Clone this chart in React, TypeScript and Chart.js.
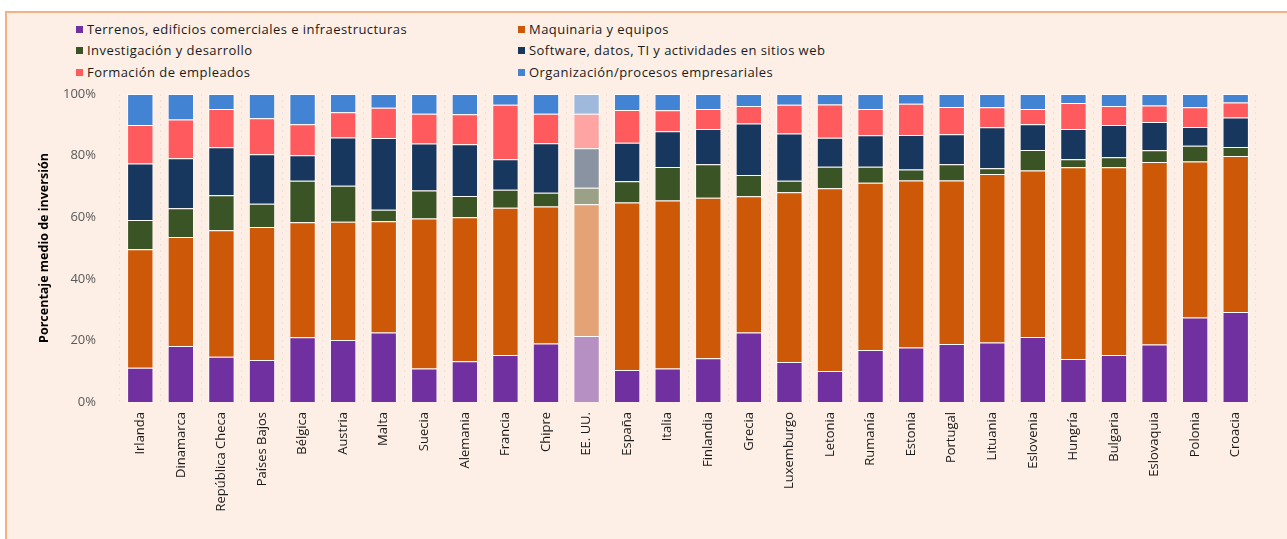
import React, { useEffect, useRef } from 'react';
import { Chart, registerables } from 'chart.js';

Chart.register(...registerables);

const categories = [
  'Irlanda', 'Dinamarca', 'República Checa', 'Países Bajos', 'Bélgica', 'Austria', 'Malta',
  'Suecia', 'Alemania', 'Francia', 'Chipre', 'EE. UU.', 'España', 'Italia', 'Finlandia',
  'Grecia', 'Luxemburgo', 'Letonia', 'Rumanía', 'Estonia', 'Portugal', 'Lituania',
  'Eslovenia', 'Hungría', 'Bulgaria', 'Eslovaquia', 'Polonia', 'Croacia',
];

const seriesNames = [
  'Terrenos, edificios comerciales e infraestructuras',
  'Maquinaria y equipos',
  'Investigación y desarrollo',
  'Software, datos, TI y actividades en sitios web',
  'Formación de empleados',
  'Organización/procesos empresariales',
];

const terrenos = [11.1, 18.2, 14.7, 13.6, 21.0, 20.1, 22.6, 10.9, 13.2, 15.3, 19.0, 21.4, 10.4, 10.9, 14.2, 22.6, 13.0, 10.1, 16.9, 17.7, 18.8, 19.3, 21.1, 14.0, 15.3, 18.7, 27.4, 29.2];
const maquinaria = [38.5, 35.4, 41.1, 43.2, 37.4, 38.4, 36.1, 48.7, 46.8, 47.8, 44.5, 42.8, 54.4, 54.5, 52.1, 44.2, 55.1, 59.3, 54.3, 54.2, 53.1, 54.7, 54.1, 62.2, 60.9, 59.2, 50.7, 50.7];
const investigacion = [9.5, 9.3, 11.3, 7.6, 13.4, 11.7, 3.7, 9.1, 6.9, 5.8, 4.4, 5.4, 6.9, 10.9, 10.9, 6.9, 3.7, 7.0, 5.2, 3.6, 5.3, 1.9, 6.6, 2.6, 3.3, 3.8, 5.1, 2.9];
const software = [18.3, 16.2, 15.6, 16.0, 8.3, 15.7, 23.3, 15.2, 16.8, 9.9, 16.1, 12.8, 12.5, 11.6, 11.4, 16.7, 15.4, 9.4, 10.2, 11.2, 9.7, 13.3, 8.4, 9.8, 10.4, 9.2, 6.1, 9.6];
const formacion = [12.5, 12.6, 12.4, 11.7, 10.1, 8.2, 9.8, 9.7, 9.7, 17.7, 9.6, 11.2, 10.6, 6.8, 6.5, 5.7, 9.3, 10.8, 8.5, 10.1, 8.9, 6.5, 4.9, 8.5, 6.2, 5.4, 6.4, 4.8];
const organizacion = [10.1, 8.3, 4.9, 7.9, 9.8, 5.9, 4.5, 6.4, 6.6, 3.5, 6.4, 6.4, 5.2, 5.3, 4.9, 3.9, 3.5, 3.4, 4.9, 3.2, 4.2, 4.3, 4.9, 2.9, 3.9, 3.7, 4.3, 2.8];

const yTicks = [0, 20, 40, 60, 80, 100];
const yTitle = 'Porcentaje medio de inversión';

const colors = ['#7030A0', '#CC5808', '#3A5426', '#17375E', '#FF5A5E', '#4283D4'];
const highlightIndex = 11;

const legendOrder = [0, 1, 2, 3, 4, 5];

function withAlpha(hex: string, a: number): string {
  const r = parseInt(hex.slice(1, 3), 16);
  const g = parseInt(hex.slice(3, 5), 16);
  const b = parseInt(hex.slice(5, 7), 16);
  return `rgba(${r},${g},${b},${a})`;
}

export default function App() {
  const ref = useRef<HTMLCanvasElement>(null);

  useEffect(() => {
    document.body.style.margin = '0';
    const series = [terrenos, maquinaria, investigacion, software, formacion, organizacion];
    const chart = new Chart(ref.current as HTMLCanvasElement, {
      type: 'bar',
      data: {
        labels: categories,
        datasets: series.map((d, i) => ({
          label: seriesNames[i],
          data: d,
          backgroundColor: categories.map((_, j) => (j === highlightIndex ? withAlpha(colors[i], 0.5) : colors[i])),
          borderColor: 'rgba(255,255,255,0.85)',
          borderWidth: 1,
          barPercentage: 0.65,
          categoryPercentage: 1,
        })),
      },
      options: {
        animation: false,
        responsive: false,
        layout: { padding: { top: 94, right: 31, bottom: 0, left: 0 } },
        plugins: { legend: { display: false }, tooltip: { enabled: false } },
        scales: {
          x: {
            stacked: true,
            grid: { color: '#EBE1D8', drawTicks: false, offset: true },
            border: { display: false, dash: [2, 4] },
            ticks: {
              minRotation: 90,
              maxRotation: 90,
              autoSkip: false,
              padding: 10,
              color: '#1a1a1a',
              font: { family: 'Open Sans', size: 13 },
            },
            afterFit: (s: any) => {
              s.height = 137;
            },
          },
          y: {
            stacked: true,
            min: 0,
            max: 100,
            afterBuildTicks: (s: any) => {
              s.ticks = yTicks.map((v) => ({ value: v }));
            },
            ticks: {
              callback: (v: any) => v + '%',
              padding: 16,
              color: '#595959',
              font: { family: 'Open Sans', size: 13 },
            },
            grid: { display: false },
            border: { display: false },
            title: {
              display: true,
              text: yTitle,
              color: '#000000',
              font: { family: 'Open Sans', size: 12.5, weight: 'bold' },
              padding: { top: 37, bottom: 0 },
            },
            afterFit: (s: any) => {
              s.width = 120;
            },
          },
        },
      },
    });
    return () => chart.destroy();
  }, []);

  const legendPos = [
    { left: 76, top: 29 },
    { left: 518, top: 29 },
    { left: 76, top: 50 },
    { left: 518, top: 50 },
    { left: 76, top: 72 },
    { left: 518, top: 72 },
  ];

  return (
    <div style={{ position: 'relative', width: 1287, height: 539, overflow: 'hidden', background: '#ffffff' }}>
      <div
        style={{
          position: 'absolute',
          left: 5,
          top: 11,
          width: 1320,
          height: 600,
          border: '2px solid #F4B183',
          background: '#FDEFE6',
        }}
      />
      {legendOrder.map((idx, k) => (
        <div
          key={idx}
          style={{
            position: 'absolute',
            left: legendPos[k].left,
            top: legendPos[k].top - 10,
            height: 20,
            display: 'flex',
            alignItems: 'center',
            fontFamily: 'Open Sans',
            fontSize: 13,
            letterSpacing: '0.45px',
            color: '#1a1a1a',
            whiteSpace: 'nowrap',
          }}
        >
          <span style={{ display: 'inline-block', width: 7, height: 7, background: colors[idx], marginRight: 4 }} />
          <span>{seriesNames[idx]}</span>
        </div>
      ))}
      <canvas
        ref={ref}
        width={1287}
        height={539}
        style={{ position: 'absolute', left: 0, top: 0, width: 1287, height: 539, display: 'block' }}
      />
    </div>
  );
}
